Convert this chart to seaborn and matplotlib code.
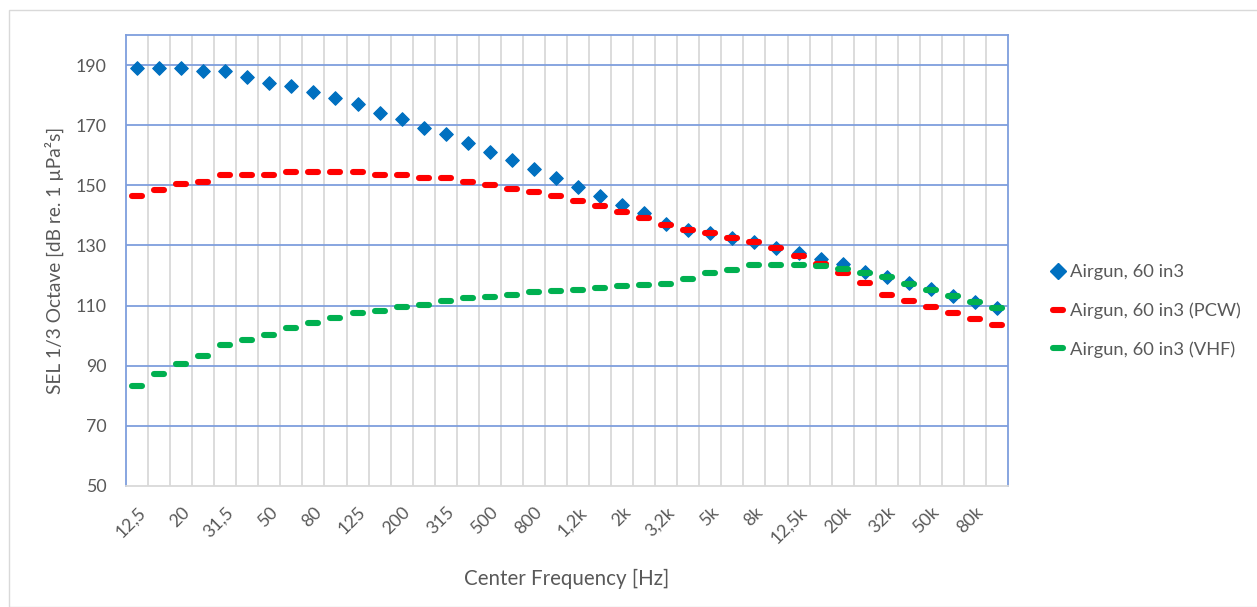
import numpy as np
import pandas as pd
import matplotlib
matplotlib.use("Agg")
import matplotlib.pyplot as plt
from matplotlib.lines import Line2D
from matplotlib.markers import MarkerStyle
from matplotlib.patches import Rectangle
import seaborn as sns

# 1/3-octave band centre frequencies (labels as printed on the axis)
bands = ["12,5", "16", "20", "25", "31,5", "40", "50", "63", "80", "100",
         "125", "160", "200", "250", "315", "400", "500", "630", "800", "1k",
         "1,2k", "1,6k", "2k", "2,5k", "3,2k", "4k", "5k", "6,3k", "8k", "10k",
         "12,5k", "16k", "20k", "25k", "32k", "40k", "50k", "63k", "80k", "100k"]

# SEL per band [dB re. 1 µPa²s]
sel_airgun = [189.1, 189.1, 189.1, 188.1, 188.1, 185.9, 184.2, 183.2, 181.1, 179.1,
              177.2, 174.1, 172.2, 169.2, 167.0, 164.1, 161.1, 158.4, 155.3, 152.3,
              149.3, 146.4, 143.5, 140.7, 137.1, 135.1, 134.0, 132.4, 131.2, 129.0,
              127.4, 125.4, 123.7, 121.3, 119.6, 117.4, 115.4, 113.3, 111.3, 109.3]

sel_pcw = [146.4, 148.5, 150.4, 151.2, 153.3, 153.5, 153.5, 154.5, 154.5, 154.5,
           154.4, 153.5, 153.3, 152.3, 152.3, 151.2, 150.1, 148.9, 147.7, 146.4,
           144.9, 143.1, 141.2, 139.0, 136.7, 135.1, 134.2, 132.4, 131.1, 129.0,
           126.6, 123.8, 120.9, 117.6, 113.4, 111.5, 109.4, 107.4, 105.5, 103.5]

sel_vhf = [83.3, 87.2, 90.7, 93.2, 96.9, 98.5, 100.1, 102.6, 104.3, 106.0,
           107.4, 108.2, 109.6, 110.1, 111.6, 112.5, 112.9, 113.5, 114.4, 114.7,
           115.2, 116.0, 116.5, 116.8, 117.2, 118.7, 120.7, 121.8, 123.5, 123.6,
           123.5, 123.2, 122.3, 121.0, 119.4, 117.2, 115.2, 113.2, 111.2, 109.3]

series_names = ["Airgun, 60 in3", "Airgun, 60 in3 (PCW)", "Airgun, 60 in3 (VHF)"]

sns.set_theme(style="white")
plt.rcParams["font.family"] = ["Lato", "DejaVu Sans"]

text_grey = "#595959"
grid_blue = "#7E9EDD"
vgrid_grey = "#D9D9D9"
c_blue = "#0070C0"
c_red = "#FF0000"
c_green = "#00B050"

pos = np.arange(len(bands))
df = pd.DataFrame({"pos": pos, "band": bands,
                   "airgun": sel_airgun, "pcw": sel_pcw, "vhf": sel_vhf})

fig = plt.figure(figsize=(12.57, 6.07), dpi=100)
fig.patches.append(Rectangle((8.5 / 1257, 0), 1.0, 1 - 9.5 / 607,
                             transform=fig.transFigure, fill=False,
                             edgecolor="#D9D9D9", linewidth=1.0))
ax = fig.add_axes([126 / 1257, 1 - 486 / 607, (1008 - 126) / 1257, (486 - 35) / 607])

# short rounded dash marker
dash = MarkerStyle("_", capstyle="round")
dash_size = 7.4
dash_width = 4.4

sns.scatterplot(data=df, x="pos", y="airgun", ax=ax, marker="D", s=48,
                color=c_blue, edgecolor=c_blue, linewidth=0.8, zorder=3, legend=False)
sns.lineplot(data=df, x="pos", y="pcw", ax=ax, estimator=None, sort=False,
             linestyle="none", marker=dash, markersize=dash_size,
             markeredgewidth=dash_width, color=c_red, markeredgecolor=c_red,
             zorder=4, legend=False)
sns.lineplot(data=df, x="pos", y="vhf", ax=ax, estimator=None, sort=False,
             linestyle="none", marker=dash, markersize=dash_size,
             markeredgewidth=dash_width, color=c_green, markeredgecolor=c_green,
             zorder=5, legend=False)

ax.set_xlim(-0.5, len(bands) - 0.5)
ax.set_ylim(50, 200)

ax.set_yticks(np.arange(50, 200, 20))
ax.set_xticks(pos[::2])
ax.set_xticklabels(bands[::2], rotation=45, ha="right", va="top",
                   rotation_mode="anchor")
ax.set_xticks(np.arange(0.5, len(bands) - 0.5, 1.0), minor=True)

ax.tick_params(axis="both", which="both", length=0, colors=text_grey, labelsize=12.8)
ax.tick_params(axis="x", which="major", pad=13)
ax.tick_params(axis="y", pad=14)

ax.grid(False)
for yv in np.arange(70, 200, 20):
    ax.axhline(yv, color=grid_blue, linewidth=1.3, zorder=1)
ax.grid(True, axis="x", which="minor", color=vgrid_grey, linewidth=1.3, zorder=0)

for side in ("left", "right", "top"):
    ax.spines[side].set_color(grid_blue)
    ax.spines[side].set_linewidth(1.3)
ax.spines["bottom"].set_color(vgrid_grey)
ax.spines["bottom"].set_linewidth(1.3)

ax.set_xlabel("Center Frequency [Hz]", color=text_grey, fontsize=14.8, labelpad=16)
ax.set_ylabel("SEL 1/3 Octave [dB re. 1 µPa²s]", color=text_grey, fontsize=13.8,
              labelpad=8)

handles = [
    Line2D([], [], linestyle="none", marker="D", markersize=8, color=c_blue),
    Line2D([], [], linestyle="none", marker=dash, markersize=7,
           markeredgewidth=4.4, color=c_red),
    Line2D([], [], linestyle="none", marker=dash, markersize=7,
           markeredgewidth=4.4, color=c_green),
]
leg = fig.legend(handles, series_names, loc="center left",
                 bbox_to_anchor=(1032 / 1257, 1 - 311 / 607), frameon=False,
                 fontsize=13.2, labelcolor=text_grey, handlelength=1.0,
                 handletextpad=0.15, labelspacing=1.2)

fig.savefig("out.png", dpi=100, facecolor="white")
